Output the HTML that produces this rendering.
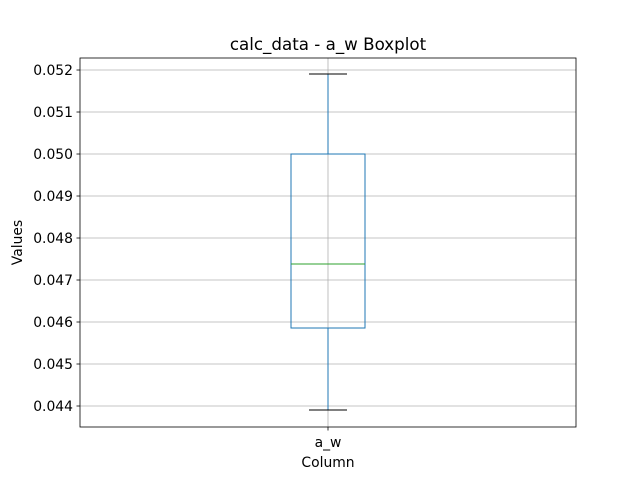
<!DOCTYPE html>
<html><head><meta charset="utf-8"><style>
body{margin:0;background:#fff}
svg{display:block;font-family:"DejaVu Sans","Liberation Sans",sans-serif}
</style></head><body>
<svg id="chart" width="640" height="480">
<rect width="640" height="480" fill="#fff"/>
<g id="grid"></g><g id="marks"></g><g id="axes"></g>
</svg>
<script>
const categories = ["a_w"];
const whiskerLow = [0.043905];
const q1 = [0.045857];
const median = [0.047381];
const q3 = [0.050000];
const whiskerHigh = [0.051905];
const yTicks = [0.044,0.045,0.046,0.047,0.048,0.049,0.050,0.051,0.052];

const L=80,R=576,T=58,B=427, yMin=0.0435, yMax=0.052286;
const y=v=>B-(v-yMin)/(yMax-yMin)*(B-T);
const x=i=>L+(i+0.5)*(R-L)/categories.length;
const NS="http://www.w3.org/2000/svg";
function mk(tag,attrs,parent,text){const e=document.createElementNS(NS,tag);for(const k in attrs)e.setAttribute(k,attrs[k]);if(text!==undefined)e.textContent=text;parent.appendChild(e);return e;}
const grid=document.getElementById('grid'),marks=document.getElementById('marks'),axes=document.getElementById('axes');

yTicks.forEach(t=>{
  const yy=y(t);
  const g=mk('line',{x1:L,x2:R,y1:yy,y2:yy,stroke:'#b0b0b0','stroke-width':0.8},grid);
  
  
  mk('line',{x1:L-3.5,x2:L,y1:yy,y2:yy,stroke:'#000','stroke-width':0.8},axes);
  const tx=mk('text',{x:L-7,y:yy+5,'font-size':'13.9px','text-anchor':'end',fill:'#000'},axes,t.toFixed(3));
  
  
});
categories.forEach((c,i)=>{
  const xx=x(i);
  const vg=mk('line',{x1:xx,x2:xx,y1:T,y2:B,stroke:'#b0b0b0','stroke-width':0.8},grid);
  
  
  mk('line',{x1:xx,x2:xx,y1:B,y2:B+3.5,stroke:'#000','stroke-width':0.8},axes);
  const tl=mk('text',{x:xx,y:B+20,'font-size':'13.9px','text-anchor':'middle',fill:'#000'},axes,c);
  
  
  const bw=74,cw=38,col='#1f77b4';
  const wl=mk('line',{x1:xx,x2:xx,y1:y(q1[i]),y2:y(whiskerLow[i]),stroke:col,'stroke-width':1},marks);
  
  
  const wh=mk('line',{x1:xx,x2:xx,y1:y(q3[i]),y2:y(whiskerHigh[i]),stroke:col,'stroke-width':1},marks);
  
  
  const cl=mk('line',{x1:xx-cw/2,x2:xx+cw/2,y1:y(whiskerLow[i]),y2:y(whiskerLow[i]),stroke:'#000','stroke-width':1},marks);
  
  
  const ch=mk('line',{x1:xx-cw/2,x2:xx+cw/2,y1:y(whiskerHigh[i]),y2:y(whiskerHigh[i]),stroke:'#000','stroke-width':1},marks);
  
  
  const bx=mk('rect',{x:xx-bw/2,y:y(q3[i]),width:bw,height:y(q1[i])-y(q3[i]),fill:'none',stroke:col,'stroke-width':1},marks);
  
  
  const md=mk('line',{x1:xx-bw/2,x2:xx+bw/2,y1:y(median[i]),y2:y(median[i]),stroke:'#2ca02c','stroke-width':1},marks);
  
  
});
const fr=mk('rect',{x:L,y:T,width:R-L,height:B-T,fill:'none',stroke:'#000','stroke-width':0.8},axes);


const ti=mk('text',{x:(L+R)/2,y:T-8,'font-size':'16.7px','text-anchor':'middle'},axes,'calc_data - a_w Boxplot');


const xt=mk('text',{x:(L+R)/2,y:467,'font-size':'13.9px','text-anchor':'middle'},axes,'Column');


const yt=mk('text',{x:22,y:(T+B)/2,'font-size':'13.9px','text-anchor':'middle',transform:`rotate(-90 22 ${(T+B)/2})`},axes,'Values');


</script>
</body></html>
